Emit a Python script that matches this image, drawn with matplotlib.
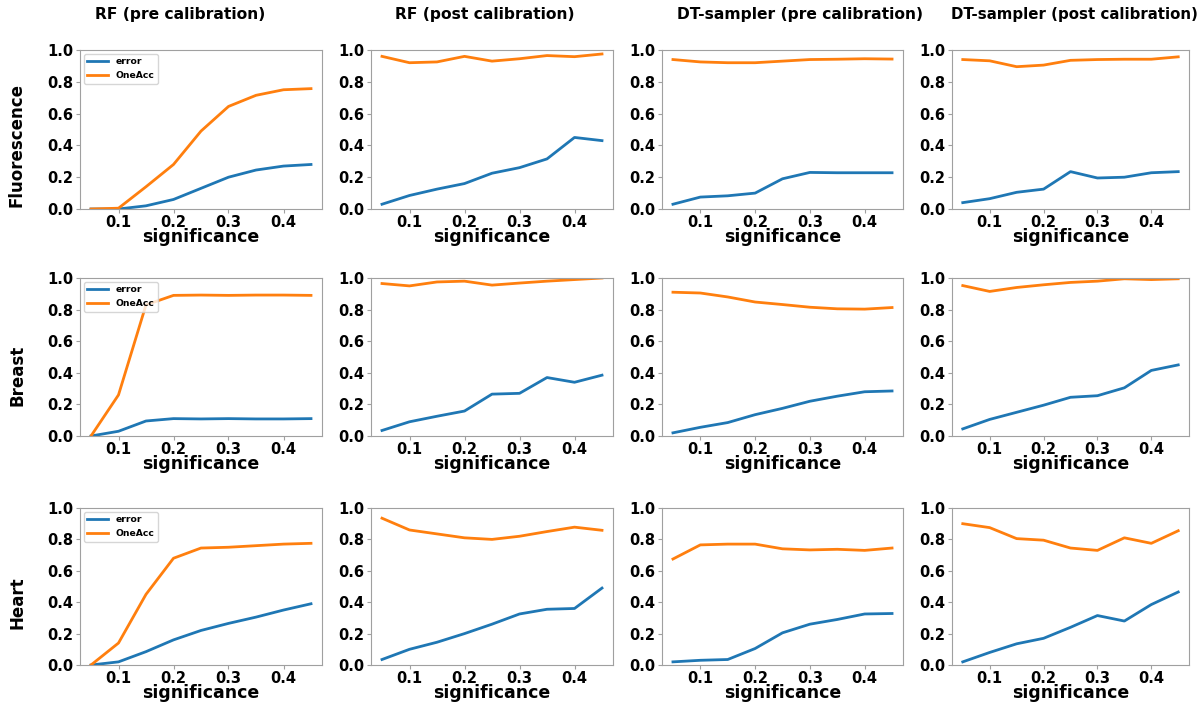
import matplotlib
matplotlib.use("Agg")
import matplotlib.pyplot as plt

significance = [0.05, 0.10, 0.15, 0.20, 0.25, 0.30, 0.35, 0.40, 0.45]
col_titles = ["RF (pre calibration)", "RF (post calibration)",
              "DT-sampler (pre calibration)", "DT-sampler (post calibration)"]
row_titles = ["Fluorescence", "Breast", "Heart"]

# Fluorescence
fl_rf_pre_err = [0.0, 0.0, 0.02, 0.06, 0.13, 0.20, 0.245, 0.27, 0.28]
fl_rf_pre_acc = [0.0, 0.005, 0.14, 0.28, 0.49, 0.645, 0.715, 0.75, 0.757]
fl_rf_post_err = [0.03, 0.085, 0.125, 0.16, 0.225, 0.26, 0.315, 0.45, 0.43]
fl_rf_post_acc = [0.96, 0.92, 0.925, 0.96, 0.93, 0.945, 0.965, 0.958, 0.975]
fl_dt_pre_err = [0.03, 0.075, 0.083, 0.10, 0.19, 0.23, 0.228, 0.228, 0.228]
fl_dt_pre_acc = [0.94, 0.925, 0.92, 0.92, 0.93, 0.94, 0.942, 0.945, 0.943]
fl_dt_post_err = [0.04, 0.065, 0.105, 0.125, 0.235, 0.195, 0.20, 0.228, 0.235]
fl_dt_post_acc = [0.94, 0.932, 0.895, 0.905, 0.935, 0.94, 0.942, 0.942, 0.957]

# Breast
br_rf_pre_err = [0.0, 0.03, 0.095, 0.11, 0.108, 0.11, 0.108, 0.108, 0.11]
br_rf_pre_acc = [0.0, 0.26, 0.83, 0.89, 0.892, 0.89, 0.892, 0.892, 0.89]
br_rf_post_err = [0.035, 0.09, 0.125, 0.158, 0.265, 0.27, 0.37, 0.34, 0.385]
br_rf_post_acc = [0.965, 0.95, 0.975, 0.98, 0.955, 0.968, 0.98, 0.99, 1.0]
br_dt_pre_err = [0.02, 0.055, 0.085, 0.135, 0.175, 0.22, 0.252, 0.28, 0.285]
br_dt_pre_acc = [0.91, 0.905, 0.88, 0.848, 0.832, 0.815, 0.805, 0.803, 0.813]
br_dt_post_err = [0.045, 0.105, 0.15, 0.195, 0.245, 0.255, 0.305, 0.415, 0.45]
br_dt_post_acc = [0.952, 0.915, 0.94, 0.957, 0.972, 0.98, 0.995, 0.99, 0.995]

# Heart
he_rf_pre_err = [0.0, 0.02, 0.085, 0.16, 0.22, 0.265, 0.305, 0.35, 0.39]
he_rf_pre_acc = [0.0, 0.14, 0.45, 0.68, 0.745, 0.75, 0.76, 0.77, 0.775]
he_rf_post_err = [0.035, 0.10, 0.145, 0.20, 0.26, 0.325, 0.355, 0.36, 0.49]
he_rf_post_acc = [0.935, 0.86, 0.835, 0.81, 0.80, 0.82, 0.85, 0.878, 0.858]
he_dt_pre_err = [0.02, 0.03, 0.035, 0.105, 0.205, 0.26, 0.29, 0.325, 0.328]
he_dt_pre_acc = [0.675, 0.765, 0.77, 0.77, 0.74, 0.733, 0.737, 0.73, 0.745]
he_dt_post_err = [0.02, 0.08, 0.135, 0.17, 0.24, 0.315, 0.28, 0.385, 0.465]
he_dt_post_acc = [0.90, 0.875, 0.805, 0.795, 0.745, 0.73, 0.81, 0.775, 0.855]

data = [
    [(fl_rf_pre_err, fl_rf_pre_acc), (fl_rf_post_err, fl_rf_post_acc),
     (fl_dt_pre_err, fl_dt_pre_acc), (fl_dt_post_err, fl_dt_post_acc)],
    [(br_rf_pre_err, br_rf_pre_acc), (br_rf_post_err, br_rf_post_acc),
     (br_dt_pre_err, br_dt_pre_acc), (br_dt_post_err, br_dt_post_acc)],
    [(he_rf_pre_err, he_rf_pre_acc), (he_rf_post_err, he_rf_post_acc),
     (he_dt_pre_err, he_dt_pre_acc), (he_dt_post_err, he_dt_post_acc)],
]

W, H = 1203, 708
fig = plt.figure(figsize=(W / 100, H / 100), dpi=100)

col_left = [80, 371, 662, 952]
col_width = [242, 242, 241, 237]
row_top = [50, 278, 508]
row_height = [159, 158, 157]

title_x = [180, 485, 800, 1074]
title_size = [11.2, 11.2, 11.2, 10.8]
row_label_y = [145, 375, 603]

spine_col = "#a0a0a0"
for r in range(3):
    for c in range(4):
        l = col_left[c] / W
        b = 1 - (row_top[r] + row_height[r]) / H
        ax = fig.add_axes([l, b, col_width[c] / W, row_height[r] / H])
        err, acc = data[r][c]
        ax.plot(significance, err, color="#1f77b4", lw=2, label="error")
        ax.plot(significance, acc, color="#ff7f0e", lw=2, label="OneAcc")
        ax.set_ylim(0, 1.0)
        ax.set_xticks([0.1, 0.2, 0.3, 0.4])
        ax.set_yticks([0.0, 0.2, 0.4, 0.6, 0.8, 1.0])
        for lab in ax.get_xticklabels() + ax.get_yticklabels():
            lab.set_fontweight("bold")
            lab.set_fontsize(10.5)
        ax.tick_params(axis="both", length=3, color=spine_col)
        ax.tick_params(axis="x", pad=1)
        ax.tick_params(axis="y", pad=2)
        for s in ax.spines.values():
            s.set_color(spine_col)
        ax.set_xlabel("significance", fontsize=12.5, fontweight="bold", labelpad=-1)
        if c == 0:
            ax.legend(loc="upper left", prop={"weight": "bold", "size": 6.7},
                      handlelength=2.2, borderaxespad=0.4)

for c in range(4):
    fig.text(title_x[c] / W, 1 - 14 / H, col_titles[c], ha="center", va="center",
             fontsize=title_size[c], fontweight="bold")
for r in range(3):
    fig.text(17 / W, 1 - row_label_y[r] / H, row_titles[r], ha="center", va="center",
             rotation=90, fontsize=12, fontweight="bold")

fig.savefig("out.png", dpi=100)
